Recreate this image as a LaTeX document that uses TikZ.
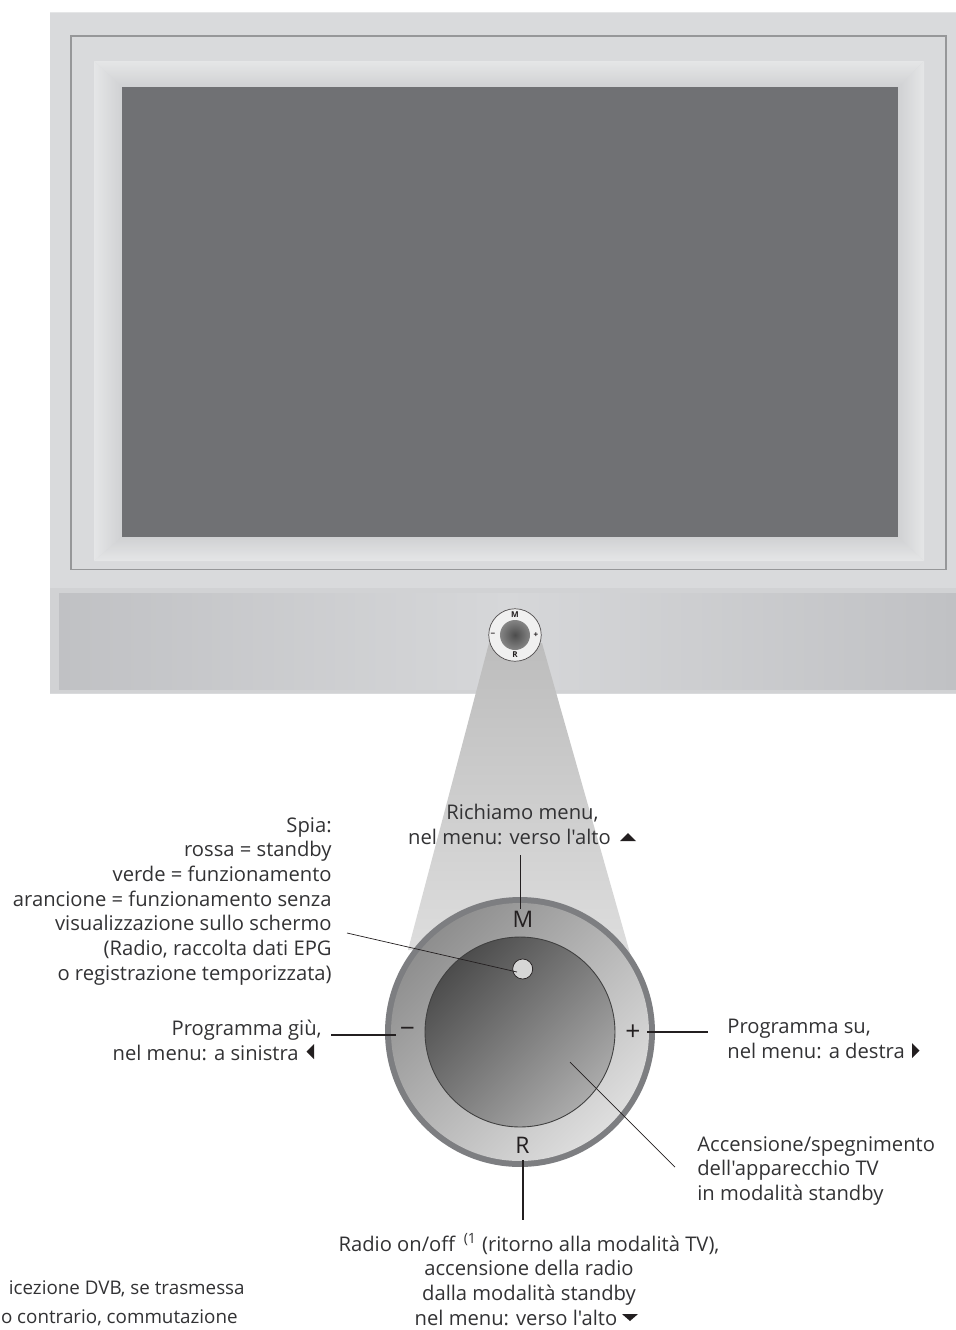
\documentclass[tikz,border=0pt]{standalone}
\usepackage{fontspec}
\setmainfont{Open Sans}[Ligatures=TeXOff]
\usepackage{xcolor}
\usepackage{tikz}
\usetikzlibrary{positioning,calc,shapes.geometric}
\definecolor{inkdark}{RGB}{35,31,32}
\definecolor{txtgray}{RGB}{50,50,52}
\definecolor{body}{RGB}{217,218,220}
\definecolor{panel}{RGB}{214,215,217}
\definecolor{panelrim}{RGB}{209,210,212}
\definecolor{panelend}{RGB}{192,193,196}
\definecolor{frameline}{RGB}{150,151,153}
\definecolor{screen}{RGB}{112,113,116}
\definecolor{bevelhi}{RGB}{229,230,231}
\definecolor{bevello}{RGB}{208,209,211}
\definecolor{rim}{RGB}{125,126,129}
\tikzset{
  lbl/.style={font=\fontsize{11.5}{14.05}\selectfont,text=txtgray,inner sep=0pt},
  footlbl/.style={font=\fontsize{10.7}{14.05}\selectfont,text=txtgray,inner sep=0pt},
  capkey/.style={font=\fontsize{13}{14}\selectfont,text=inkdark,inner sep=0pt},
  signkey/.style={font=\fontsize{15}{16}\selectfont,text=inkdark,inner sep=0pt},
  minikey/.style={font=\fontsize{4.6}{5}\selectfont\bfseries,text=inkdark,inner sep=0pt},
  lead/.style={draw=inkdark,line width=0.85pt},
  thinlead/.style={draw=inkdark,line width=0.4pt},
  tria/.style={fill=inkdark},
  dial/.style={circle,inner sep=0pt},
}
\begin{document}
\begin{tikzpicture}[x=0.02cm,y=-0.02cm]
\path[use as bounding box,clip] (0,0) rectangle (956,1330);
% housing
\fill[body] (50,12) rectangle (956,694);
\fill[bevelhi] (50,12) rectangle (956,13);
\fill[panelrim] (50,588) rectangle (956,693);
\shade[left color=panelend,right color=panelend,middle color=panel] (59,593) rectangle (956,689);
\draw[frameline,line width=0.75pt] (71,36) rectangle (946,569.5);
\shade[top color=bevelhi,bottom color=bevello] (94,61) -- (924,61) -- (898,87) -- (122,87) -- cycle;
\shade[left color=bevelhi,right color=bevello] (94,61) -- (122,87) -- (122,537) -- (94,561) -- cycle;
\shade[left color=bevello,right color=bevelhi] (924,61) -- (924,561) -- (898,537) -- (898,87) -- cycle;
\shade[top color=bevello,bottom color=bevelhi] (94,561) -- (122,537) -- (898,537) -- (924,561) -- cycle;
\fill[screen] (122,87) rectangle (898,537);
% light beam
\shade[top color=black!26,bottom color=black!13] (489,643) -- (542,643) -- (632,960) -- (408,950) -- cycle;
% small knob
\node[dial,minimum size=1.05cm,fill=white!94!black,draw=inkdark!80,line width=0.4pt] (smallknob) at (515,635) {};
\node[dial,minimum size=0.6cm,inner color=black!70,outer color=black!48] (smallcap) at (515,635) {};
\node[minikey] (smallM) at (515,615) {M};
\node[minikey] (smallR) at (515,655) {R};
\node[minikey] (smallminus) at (493,635) {−};
\node[minikey] (smallplus) at (536,635) {+};
% big knob
\node[dial,minimum size=5.4cm,fill=rim] (knob) at (520,1032) {};
\node[dial,minimum size=5.16cm,top color=black!44,bottom color=black!13,shading angle=45] (ring) at (520,1032) {};
\node[dial,minimum size=3.8cm,top color=black!70,bottom color=black!33,shading angle=45,draw=black!75,line width=0.5pt] (cap) at (520,1032) {};
\node[dial,minimum size=0.4cm,fill=black!16,draw=inkdark,line width=0.4pt] (led) at (522.7,969) {};
\node[capkey] (keyM) at (523,919.5) {M};
\node[capkey] (keyR) at (522.5,1145.5) {R};
\node[signkey] (keyminus) at (407.5,1032) {−};
\node[signkey] (keyplus) at (633,1032.5) {+};
% texts
\node[lbl,align=right,anchor=north east] (spia) at (332,817) {Spia:\\rossa = standby\\verde = funzionamento\\arancione = funzionamento senza\\visualizzazione sullo schermo\\(Radio, raccolta dati EPG\\o registrazione temporizzata)};
\node[lbl,align=center,anchor=north] (menu) at (522.5,804) {Richiamo menu,\\nel menu: verso l'alto\hspace*{0.52cm}};
\node[lbl,align=right,anchor=north east] (down) at (322,1020) {Programma giù,\\nel menu: a sinistra\hspace*{0.46cm}};
\node[lbl,align=left,anchor=north west] (up) at (727,1019) {Programma su,\\nel menu: a destra};
\node[lbl,align=left,anchor=north west] (power) at (697,1136) {Accensione/spegnimento\\dell'apparecchio TV\\in modalità standby};
\node[lbl,align=center,anchor=north] (radio) at (529,1233) {Radio on/off \,\textsuperscript{(1} (ritorno alla modalità TV),\\accensione della radio\\dalla modalità standby\\nel menu: verso l'alto\hspace*{0.52cm}};
\node[footlbl,anchor=east] (foot1) at (245,1289) {icezione DVB, se trasmessa};
\node[footlbl,anchor=east] (foot2) at (238,1318) {o contrario, commutazione};
% arrows in the text
\fill[tria] (620,841) -- (636,841) -- (628,833) -- cycle;
\fill[tria] (314,1044) -- (314,1059) -- (306.5,1051.5) -- cycle;
\fill[tria] (912,1043) -- (912,1058) -- (919.5,1050.5) -- cycle;
\fill[tria] (622,1314) -- (638,1314) -- (630,1321) -- cycle;
% leaders
\coordinate (menutop) at (520.7,855);
\coordinate (menuend) at (520.7,909);
\coordinate (radiotop) at (523,1160);
\coordinate (radioend) at (523,1220);
\coordinate (downa) at (331,1035);
\coordinate (downb) at (396,1035);
\coordinate (upa) at (647,1032);
\coordinate (upb) at (708,1032);
\coordinate (spiaend) at (347,933);
\coordinate (spiatip) at (517,972);
\coordinate (powera) at (570,1062);
\coordinate (powerb) at (675,1167);
\draw[lead] (menutop) -- (menuend);
\draw[lead] (radiotop) -- (radioend);
\draw[lead] (downa) -- (downb);
\draw[lead] (upa) -- (upb);
\draw[thinlead] (spiaend) -- (spiatip);
\draw[thinlead] (powera) -- (powerb);
\end{tikzpicture}
\end{document}
